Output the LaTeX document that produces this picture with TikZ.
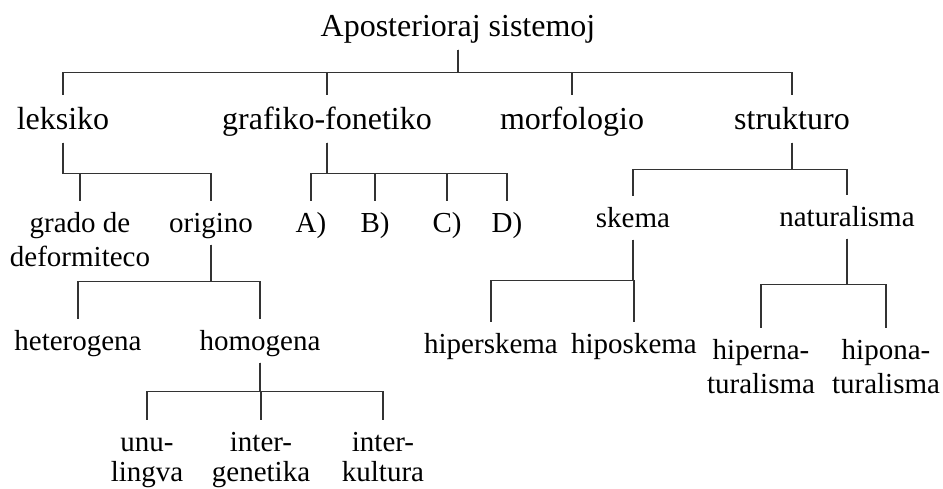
\documentclass[tikz,border=0pt]{standalone}
\usepackage{fontspec}
\setmainfont{Liberation Serif}
% two centred lines whose baseline is that of the first line
\newcommand{\twolines}[2]{\vtop{\halign{\hfil##\hfil\cr#1\cr#2\cr}}}
\begin{document}
\begin{tikzpicture}[x=1pt,y=-1pt,
  big/.style={font=\fontsize{32}{38}\selectfont, inner sep=0pt, anchor=base,
              text height=34pt, text depth=13.5pt},
  small/.style={font=\fontsize{29}{34}\selectfont, inner sep=0pt, anchor=base,
                text height=31pt, text depth=12.5pt},
  tight/.style={font=\fontsize{29}{30}\selectfont},
  link/.style={draw=black!80, line width=1.3pt}
]
\useasboundingbox (0,0) rectangle (943,488);

% root and first level
\node[big] (root) at (458,36) {Aposterioraj sistemoj};
\node[big] (lek)  at (63,129)  {leksiko};
\node[big] (graf) at (327,129) {grafiko-fonetiko};
\node[big] (morf) at (572,129) {morfologio};
\node[big] (strk) at (792,129) {strukturo};

% second level
\node[small] (grado) at (80,232)  {\twolines{grado de}{deformiteco}};
\node[small] (orig)  at (211,232) {origino};
\node[small] (A) at (311,232) {A)};
\node[small] (B) at (375,232) {B)};
\node[small] (C) at (447,232) {C)};
\node[small] (D) at (507,232) {D)};
\node[small] (skema) at (633,227) {skema};
\node[small] (nat)   at (847,226) {naturalisma};

% third level
\node[small] (het)    at (78,350)  {heterogena};
\node[small] (hom)    at (260,350) {homogena};
\node[small] (hipers) at (491,353) {hiperskema};
\node[small] (hipos)  at (634,353) {hiposkema};
\node[small] (hipern) at (761,359) {\twolines{hiperna-}{turalisma}};
\node[small] (hipon)  at (886,359) {\twolines{hipona-}{turalisma}};

% fourth level
\node[small,tight] (unu)  at (147,451) {\twolines{unu-}{lingva}};
\node[small,tight] (intg) at (261,451) {\twolines{inter-}{genetika}};
\node[small,tight] (intk) at (383,451) {\twolines{inter-}{kultura}};

% elbow connectors: down to the bar, across, down to the child
\foreach \c in {lek,graf,morf,strk}
  \draw[link] (root.south) -- ++(0,22.5) -| (\c.north);
\foreach \c in {grado,orig}
  \draw[link] (lek.south) -- ++(0,30.5) -| (\c.north);
\foreach \c in {A,B,C,D}
  \draw[link] (graf.south) -- ++(0,30.5) -| (\c.north);
\foreach \c in {skema,nat}
  \draw[link] (strk.south) -- ++(0,26.5) -| (\c.north);
\foreach \c in {het,hom}
  \draw[link] (orig.south) -- ++(0,36.5) -| (\c.north);
\foreach \c in {hipers,hipos}
  \draw[link] (skema.south) -- ++(0,40.5) -| (\c.north);
\foreach \c in {hipern,hipon}
  \draw[link] (nat.south) -- ++(0,45.5) -| (\c.north);
\foreach \c in {unu,intg,intk}
  \draw[link] (hom.south) -- ++(0,28.5) -| (\c.north);
\end{tikzpicture}
\end{document}
